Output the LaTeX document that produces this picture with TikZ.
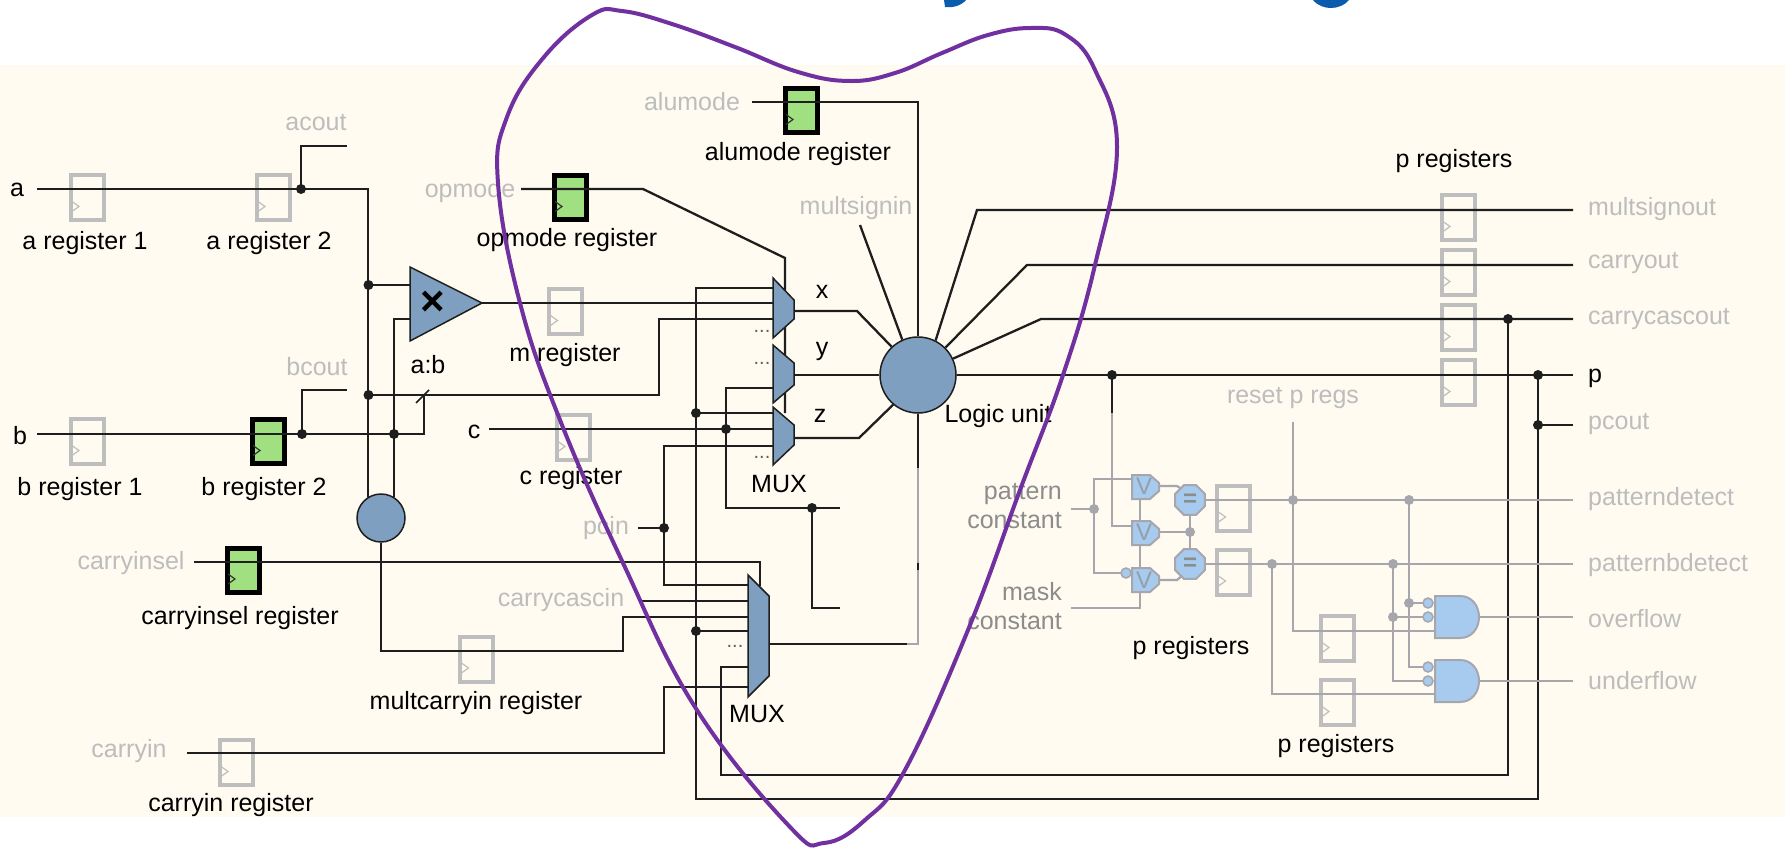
\documentclass[tikz,border=0pt]{standalone}
\usepackage{fontspec}
\setmainfont{Liberation Sans}
\usetikzlibrary{shapes.geometric}
\definecolor{paper}{HTML}{FFFBF0}
\definecolor{wirek}{HTML}{1E1E1E}
\definecolor{wireg}{HTML}{A6A6AC}
\definecolor{regg}{HTML}{BEBEBE}
\definecolor{regon}{HTML}{A0E080}
\definecolor{steel}{HTML}{7F9FC0}
\definecolor{sky}{HTML}{A6CBEE}
\definecolor{lablight}{HTML}{BDBDBD}
\definecolor{labmid}{HTML}{8C8C8C}
\definecolor{purp}{HTML}{7030A0}
\definecolor{titleblue}{HTML}{0B5CAD}
\tikzset{
  wire/.style={draw=wirek,line width=2.3pt},
  gwire/.style={draw=wireg,line width=2.3pt},
  jdot/.style={circle,fill=wirek,inner sep=0pt,minimum size=10pt},
  gdot/.style={circle,fill=wireg,inner sep=0pt,minimum size=10pt},
  regoff/.style={rectangle,draw=regg,line width=4pt,inner sep=0pt,minimum width=33pt,minimum height=45pt},
  regact/.style={rectangle,draw=black,fill=regon,line width=5pt,inner sep=0pt,minimum width=32pt,minimum height=44pt},
  steelshape/.style={draw=wirek,fill=steel,line width=1.5pt},
  skyshape/.style={draw=wireg,fill=sky,line width=2pt},
  blk/.style={text=black,inner sep=0pt,yshift=-1.5pt,font=\fontsize{25}{29}\selectfont},
  lgt/.style={text=lablight,inner sep=0pt,yshift=-1.5pt,font=\fontsize{25}{29}\selectfont},
  mid/.style={text=labmid,inner sep=0pt,align=right,font=\fontsize{25}{29}\selectfont},
  vgate/.style={text=labmid!70!sky,inner sep=0pt,font=\fontsize{24}{24}\selectfont},
  eqgate/.style={regular polygon,regular polygon sides=8,minimum size=32pt,inner sep=0pt,skyshape,text=labmid,font=\fontsize{24}{24}\bfseries\selectfont},
  bub/.style={circle,draw=wireg,fill=sky,line width=1.5pt,inner sep=0pt,minimum size=10pt},
}
\newcommand{\regoffbox}[3]{%
  \node[regoff] (#1) at (#2,#3) {};
  \draw[regg,line width=1.2pt] ([shift={(-15pt,-4pt)}]#1.center) -- ([shift={(-8pt,-9pt)}]#1.center) -- ([shift={(-15pt,-14pt)}]#1.center);}
\newcommand{\regonbox}[3]{%
  \node[regact] (#1) at (#2,#3) {};
  \draw[black!80,line width=1.2pt] ([shift={(-15pt,-4pt)}]#1.center) -- ([shift={(-8pt,-9pt)}]#1.center) -- ([shift={(-15pt,-14pt)}]#1.center);}
\newcommand{\threemux}[4]{%
  \draw[steelshape] (773,#1) -- (794,#2) -- (794,#3) -- (773,#4) -- cycle;}
\newcommand{\orshape}[1]{%
  \draw[skyshape] (1132,#1) -- (1150,#1) -- (1159,#1+8) -- (1159,#1+16) -- (1150,#1+24) -- (1132,#1+24) -- cycle;}
\newcommand{\andshape}[1]{%
  \draw[skyshape] (1435,#1) -- (1460,#1) .. controls (1472,#1) and (1479,#1+10) .. (1479,#1+21) .. controls (1479,#1+32) and (1472,#1+42) .. (1460,#1+42) -- (1435,#1+42) -- cycle;}
\begin{document}
\begin{tikzpicture}[x=1pt,y=-1pt]
\useasboundingbox (0,0) rectangle (1785,848);
\fill[white] (0,0) rectangle (1785,848);
\fill[paper] (0,65) rectangle (1785,817);
% cropped title descenders
\fill[titleblue] (944,0) -- (966,0) .. controls (961,6) and (952,8) .. (945,7) -- cycle;
\fill[titleblue] (1313,0) .. controls (1318,6) and (1325,8) .. (1331,8) .. controls (1338,8) and (1345,5) .. (1349,0) -- cycle;

% registers
\regoffbox{ra1}{87}{197.5}
\regoffbox{ra2}{273}{197.5}
\regoffbox{rb1}{87}{441.5}
\regonbox{rb2}{268}{441.5}
\regonbox{rop}{570}{197.5}
\regonbox{ralu}{801}{110.5}
\regoffbox{rm}{565.5}{311.5}
\regoffbox{rc}{573}{437.5}
\regonbox{rci}{243}{570}
\regoffbox{rmc}{476.5}{659}
\regoffbox{rcy}{236}{762.5}
\regoffbox{rp1}{1458}{217.5}
\regoffbox{rp2}{1458}{272.5}
\regoffbox{rp3}{1458}{327.5}
\regoffbox{rp4}{1458}{382.5}
\regoffbox{rq1}{1233.5}{508}
\regoffbox{rq2}{1233.5}{572}
\regoffbox{rq3}{1337}{638.5}
\regoffbox{rq4}{1337}{702.5}

% named junctions
\node[jdot] (ja) at (301,189) {};
\node[jdot] (jax) at (368.5,285) {};
\node[jdot] (jbx) at (368.5,395) {};
\node[jdot] (jb) at (302,434) {};
\node[jdot] (jb2) at (394,434) {};
\node[jdot] (jt) at (696,413) {};
\node[jdot] (jv) at (726,429) {};
\node[jdot] (jw) at (812,508) {};
\node[jdot] (jp) at (664,528) {};
\node[jdot] (jq) at (696,631) {};
\node[jdot] (jd) at (1112,375) {};
\node[jdot] (jc) at (1508,319) {};
\node[jdot] (jpp) at (1538,375) {};
\node[jdot] (jpc) at (1538,425) {};
\node[gdot] (g1) at (1094,509) {};
\node[gdot] (g2) at (1190,532) {};
\node[gdot] (g3) at (1293,500) {};
\node[gdot] (g4) at (1272,564) {};
\node[gdot] (g5) at (1409,500) {};
\node[gdot] (g6) at (1393,564) {};
\node[gdot] (g7) at (1409,603) {};
\node[gdot] (g8) at (1393,617) {};

% named wire ends
\coordinate (ain) at (37,189);
\coordinate (acoe) at (347,146);
\coordinate (bin) at (37,434);
\coordinate (bcoe) at (347,390);
\coordinate (multa) at (410,285);
\coordinate (multb) at (410,319);
\coordinate (mout) at (482,303);
\coordinate (opin) at (521,189);
\coordinate (opbus) at (785,413);
\coordinate (aluin) at (752,102);
\coordinate (msin) at (860,225);
\coordinate (cin) at (489,429);
\coordinate (m1a) at (773,288);
\coordinate (m1b) at (773,303);
\coordinate (m1c) at (773,319);
\coordinate (m2c) at (773,388);
\coordinate (m3a) at (773,413);
\coordinate (m3b) at (773,429);
\coordinate (m3c) at (773,446);
\coordinate (o1) at (794,311);
\coordinate (o2) at (794,375);
\coordinate (o3) at (794,438);
\coordinate (e1) at (840,508);
\coordinate (e2) at (840,608);
\coordinate (pcinS) at (638,528);
\coordinate (ccinS) at (640,601);
\coordinate (ciselS) at (194,562);
\coordinate (ciselE) at (760,586);
\coordinate (cyS) at (187,753);
\coordinate (x1) at (749,585);
\coordinate (x2) at (749,601);
\coordinate (x3) at (749,617);
\coordinate (x4) at (749,631);
\coordinate (x5) at (749,667);
\coordinate (x6) at (749,687);
\coordinate (xo) at (769,644);
\coordinate (k1) at (1573,210);
\coordinate (k2) at (1573,265);
\coordinate (k3) at (1573,319);
\coordinate (k4) at (1573,375);
\coordinate (k5) at (1573,425);
\coordinate (k6) at (1573,500);
\coordinate (k7) at (1573,564);
\coordinate (k8) at (1573,617);
\coordinate (k9) at (1573,681);
\coordinate (patS) at (1071,509);
\coordinate (maskS) at (1071,608);
\coordinate (rstS) at (1293,422);

% logic unit + carry circle nodes
\node[circle,steelshape,minimum size=76pt,inner sep=0pt] (lu) at (918,375) {};
\node[circle,steelshape,minimum size=48pt,inner sep=0pt] (cc) at (381,518) {};

% black wires
\draw[wire] (ain) -- (ja.center) -| (cc.122);
\draw[wire] (ja.center) |- (acoe);
\draw[wire] (jax.center) -- (multa);
\draw[wire] (multb) -| (cc.58);
\draw[wire] (jbx.center) -- (659,395) |- (m1c);
\draw[wire] (bin) -- (jb.center) -- (jb2.center) -- (424,434) -- (424,395);
\draw[wire,line width=1.6pt] (416,403) -- (429,390);
\draw[wire] (jb.center) |- (bcoe);
\draw[wire] (mout) -- (m1b);
\draw[wire] (opin) -- (643,189) -- (785,258) -- (opbus);
\draw[wire] (aluin) -| (lu.north);
\draw[wire] (msin) -- (lu.114);
\draw[wire] (cin) -- (m3b);
\draw[wire] (m2c) -- (726,388) -- (726,508) -- (e1);
\draw[wire] (jw.center) |- (e2);
\draw[wire] (jt.center) -- (m3a);
\draw[wire] (m3c) -- (664,446) |- (x1);
\draw[wire] (pcinS) -- (jp.center);
\draw[wire] (ccinS) -- (x2);
\draw[wire] (ciselS) -- (760,562) -- (ciselE);
\draw[wire] (cc.south) |- (623,651) |- (x3);
\draw[wire] (jq.center) -- (x4);
\draw[wire] (jc.center) |- (721,775) |- (x5);
\draw[wire] (cyS) -- (664,753) |- (x6);
\draw[wire] (jpp.center) |- (696,799) |- (m1a);
\draw[wire] (o1) -- (857,311) -- (lu.133);
\draw[wire] (o2) -- (lu.west);
\draw[wire] (o3) -- (859,438) -- (lu.230);
\draw[wire] (lu.63) -- (977,210) -- (k1);
\draw[wire] (lu.45) -- (1027,265) -- (k2);
\draw[wire] (lu.25) -- (1041,319) -- (k3);
\draw[wire] (lu.east) -- (k4);
\draw[wire] (jpp.center) -- (1538,425);
\draw[wire] (jpc.center) -- (k5);
\draw[wire] (lu.south) -- (918,468);
\draw[gwire] (918,468) -- (918,644) -- (907,644);
\draw[wire] (918,563) -- (918,570);
\draw[wire] (xo) -- (907,644);
\draw[wire] (jd.center) -- (1112,413);

% gray wires
\draw[gwire] (1112,413) |- (1132,526);
\draw[gwire] (patS) -- (g1.center);
\draw[gwire] (1132,479) -| (g1.center) |- (1122,573);
\draw[gwire] (maskS) -- (1140,608) -- (1140,487);
\draw[gwire] (1159,486) -- (1177,486) -- (1183,490);
\draw[gwire] (1159,580) -- (1177,580) -- (1183,575);
\draw[gwire] (1159,532) -- (g2.center);
\draw[gwire] (1190,500) -- (1190,564);
\draw[gwire] (1190,500) -- (k6);
\draw[gwire] (1190,564) -- (k7);
\draw[gwire] (rstS) -- (1293,631) -- (1436,631);
\draw[gwire] (g4.center) |- (1436,694);
\draw[gwire] (g5.center) |- (1423,667);
\draw[gwire] (g7.center) -- (1423,603);
\draw[gwire] (g6.center) |- (1423,681);
\draw[gwire] (g8.center) -- (1423,617);
\draw[gwire] (1479,617) -- (k8);
\draw[gwire] (1479,681) -- (k9);

% mux shapes
\threemux{278}{300}{319}{338}
\threemux{345}{363}{385}{403}
\threemux{407}{425}{445}{465}
\draw[steelshape] (748,575) -- (769,596) -- (769,676) -- (748,697) -- cycle;
\draw[steelshape,fill=steel] (410,267) -- (482,303) -- (410,341) -- cycle;
\node[font=\fontsize{42}{42}\bfseries\selectfont,inner sep=0pt,text=black] (tms) at (433,303) {×};

% sky gates
\orshape{475}
\orshape{521}
\orshape{568}
\node[vgate] (v1) at (1144,486.5) {V};
\node[vgate] (v2) at (1144,532.5) {V};
\node[vgate] (v3) at (1144,580) {V};
\node[eqgate] (eq1) at (1190,500) {=};
\node[eqgate] (eq2) at (1190,564) {=};
\node[bub] (b0) at (1126,573) {};
\andshape{596}
\andshape{660}
\node[bub] (b1) at (1428,603) {};
\node[bub] (b2) at (1428,617) {};
\node[bub] (b3) at (1428,667) {};
\node[bub] (b4) at (1428,681) {};

% labels
\node[blk] (t1) at (17,188) {a};
\node[blk] (t2) at (20,434) {b};
\node[blk] (t3) at (474,430) {c};
\node[blk,anchor=west] (t4) at (1588,377) {p};
\node[blk] (t5) at (85,242) {a register 1};
\node[blk] (t6) at (269,242) {a register 2};
\node[blk] (t7) at (80,488) {b register 1};
\node[blk] (t8) at (264,488) {b register 2};
\node[blk] (t9) at (567,239) {opmode register};
\node[blk] (t10) at (798,153) {alumode register};
\node[blk] (t11) at (565,354) {m register};
\node[blk] (t12) at (571,477) {c register};
\node[blk] (t13) at (428,363) {a:b};
\node[blk] (t14) at (240,617) {carryinsel register};
\node[blk] (t15) at (476,702) {multcarryin register};
\node[blk] (t16) at (231,804) {carryin register};
\node[blk] (t17) at (822,290) {x};
\node[blk] (t18) at (822,350) {y};
\node[blk] (t19) at (820,414) {z};
\node[blk] (t20) at (779,483) {MUX};
\node[blk] (t21) at (757,713) {MUX};
\node[blk] (t22) at (998,415) {Logic unit};
\node[blk] (t23) at (1454,160) {p registers};
\node[blk] (t24) at (1191,647) {p registers};
\node[blk] (t25) at (1336,745) {p registers};
\node[text=wirek!70,inner sep=0pt] (d1) at (762,331) {\fontsize{20}{20}\selectfont ...};
\node[text=wirek!70,inner sep=0pt] (d2) at (762,363) {\fontsize{20}{20}\selectfont ...};
\node[text=wirek!70,inner sep=0pt] (d3) at (762,457) {\fontsize{20}{20}\selectfont ...};
\node[text=wirek!70,inner sep=0pt] (d4) at (735,646) {\fontsize{20}{20}\selectfont ...};
\node[lgt] (u1) at (316,121.5) {acout};
\node[lgt] (u2) at (317,365.5) {bcout};
\node[lgt] (u3) at (692,100.5) {alumode};
\node[lgt] (u4) at (470,190) {opmode};
\node[lgt] (u5) at (856,207) {multsignin};
\node[lgt] (u6) at (131,562) {carryinsel};
\node[lgt] (u7) at (606,527) {pcin};
\node[lgt] (u8) at (561,599) {carrycascin};
\node[lgt] (u9) at (129,750) {carryin};
\node[lgt] (u10) at (1293,397) {reset p regs};
\node[lgt,anchor=west] (w1) at (1588,208) {multsignout};
\node[lgt,anchor=west] (w2) at (1588,262) {carryout};
\node[lgt,anchor=west] (w3) at (1588,318) {carrycascout};
\node[lgt,anchor=west] (w4) at (1588,423) {pcout};
\node[lgt,anchor=west] (w5) at (1588,498) {patterndetect};
\node[lgt,anchor=west] (w6) at (1588,564) {patternbdetect};
\node[lgt,anchor=west] (w7) at (1588,617.5) {overflow};
\node[lgt,anchor=west] (w8) at (1588,679.5) {underflow};
\node[mid,anchor=east] (c1) at (1062,506) {pattern\\constant};
\node[mid,anchor=east] (c2) at (1062,606) {mask\\constant};

% purple outline
\draw[purp,line width=4pt] plot[smooth cycle,tension=0.7] coordinates {
 (622,11) (672,24) (735,47) (798,72) (850,81) (895,73) (942,53) (988,35) (1031,28) (1066,35)
 (1095,70) (1117,147) (1095,265) (1063,375) (1020,490) (968,630) (905,770) (865,820) (824,843) (790,827)
 (695,707) (623,563) (560,420) (520,303) (498,183) (507,117) (544,57) (592,15)};
\end{tikzpicture}
\end{document}
